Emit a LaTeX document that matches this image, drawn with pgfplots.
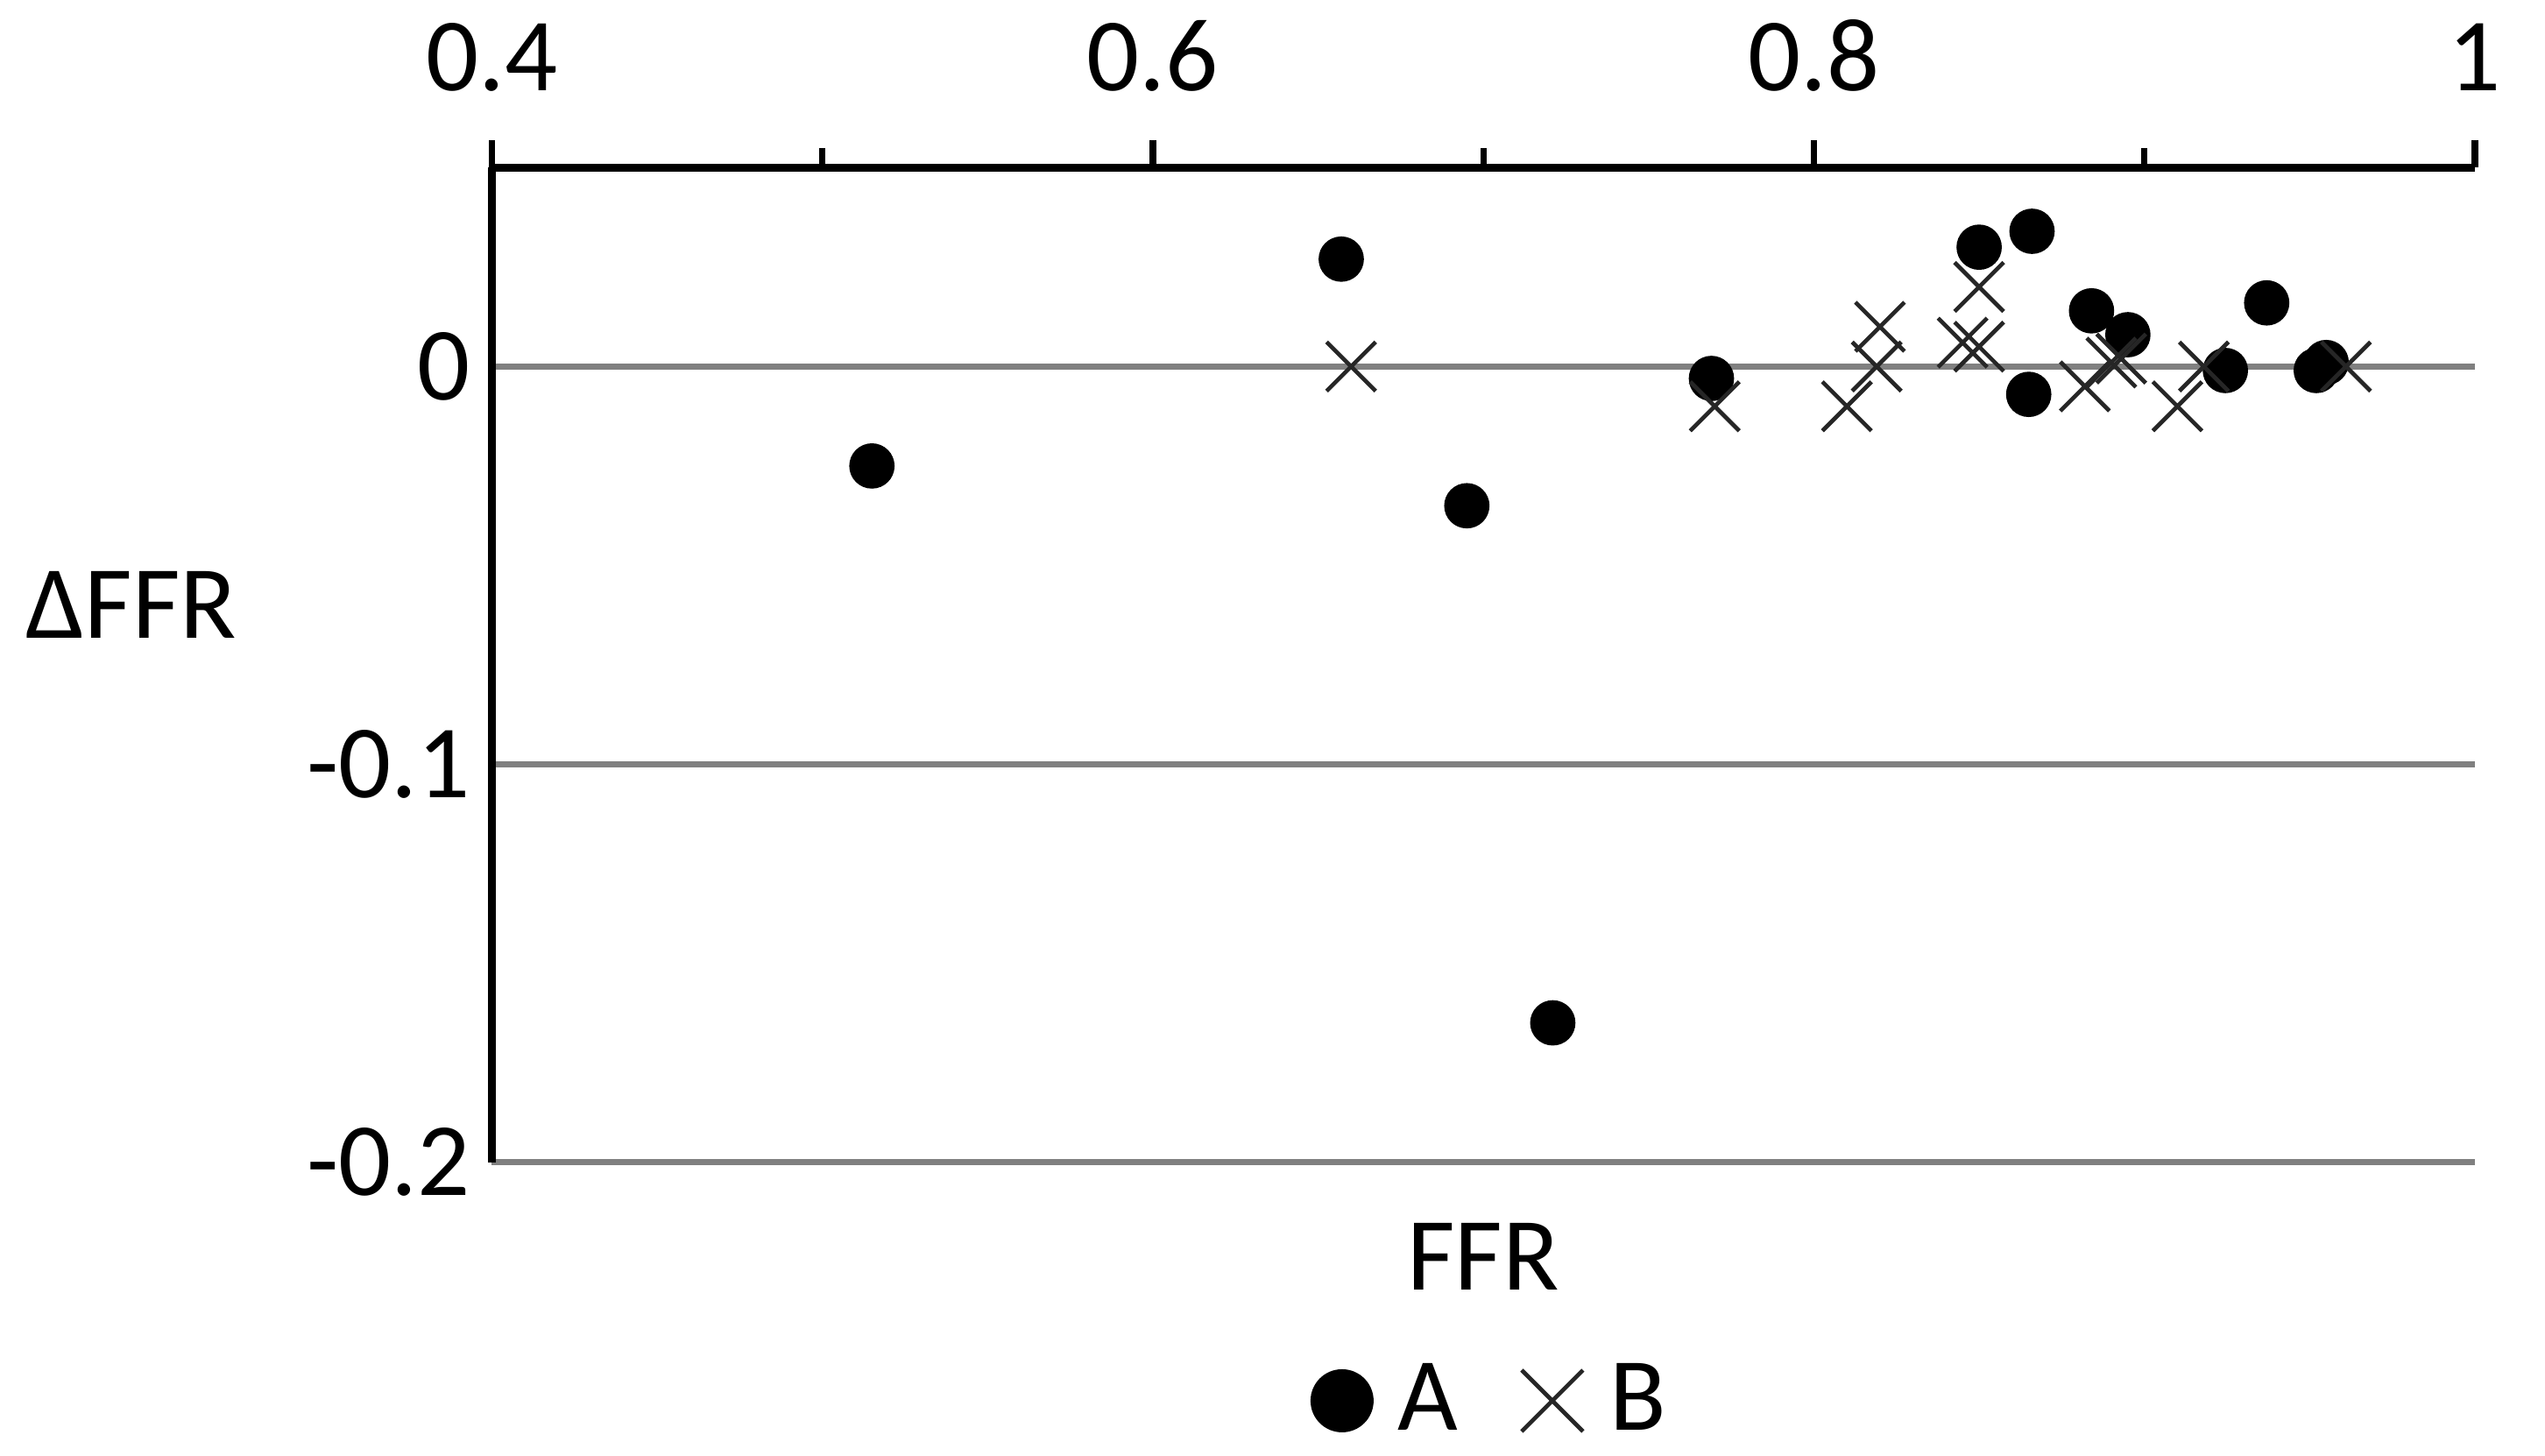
\documentclass[border=0pt]{standalone}
\usepackage{fontspec}
\setmainfont{Carlito}
\usepackage{pgfplots}
\pgfplotsset{compat=1.18}

\newcommand{\fsz}{\fontsize{17.8}{21}\selectfont}

\begin{document}
\begin{tikzpicture}
\path[use as bounding box] (-84.2pt,-50.2pt) rectangle (351.5pt,198.95pt);
\begin{axis}[
    at={(0,0)}, anchor=south west,
    scale only axis,
    width=339.5pt, height=170.25pt,
    xmin=0.4, xmax=1, ymin=-0.2, ymax=0.05,
    axis x line=top, axis y line=left,
    axis line style={-, black, line width=1.35pt},
    xtick={0.4,0.6,0.8,1}, xticklabels={0.4,0.6,0.8,1},
    minor xtick={0.5,0.7,0.9},
    ytick={-0.2,-0.1,0}, yticklabels={-0.2,-0.1,0},
    tick align=outside,
    major tick length=4.65pt, minor tick length=3.3pt,
    xtick style={black, line width=1.1pt},
    ytick style={draw=none},
    ymajorgrids, grid style={gray, line width=1pt},
    tick label style={font=\fsz, inner sep=0pt},
    xticklabel style={anchor=base, yshift=8.6pt},
    yticklabel style={anchor=east, xshift=1.2pt},
    clip=false,
    legend columns=2,
    legend style={at={(0.5025,-0.24)}, anchor=center, draw=none, fill=none,
        font=\fsz, inner sep=0pt, nodes={inner sep=0pt},
        /tikz/every odd column/.append style={column sep=4.2pt},
        /tikz/every even column/.append style={column sep=10.5pt}},
]
\addplot[only marks, mark=*, mark size=3.68pt, mark options={fill=black, draw=none},
    legend image code/.code={\fill[black] (5.2pt,0pt) circle[radius=5.2pt];}]
    coordinates {
    (0.515,-0.025) (0.657,0.027) (0.695,-0.035) (0.721,-0.165)
    (0.769,-0.003) (0.850,0.030) (0.866,0.034) (0.865,-0.007)
    (0.884,0.014) (0.895,0.008) (0.9245,-0.001) (0.937,0.016)
    (0.952,-0.001) (0.955,0.001)
    };
\addlegendentry{A}
\addplot[only marks, mark=x, mark size=5.94pt, black!85, line width=0.7pt,
    legend image code/.code={\draw[black!85, line width=0.7pt]
        (0pt,-5.25pt) -- (10.5pt,5.25pt) (0pt,5.25pt) -- (10.5pt,-5.25pt);}]
    coordinates {
    (0.660,0) (0.770,-0.010) (0.810,-0.010) (0.820,0.010)
    (0.819,0) (0.845,0.006) (0.850,0.005) (0.850,0.020)
    (0.882,-0.005) (0.890,0.001) (0.893,0.002) (0.910,-0.010)
    (0.918,0) (0.961,0)
    };
\addlegendentry{B}
\node[anchor=base, inner sep=0pt, font=\fsz, yshift=-21.9pt] at (rel axis cs:0.5,0) {FFR};
\node[anchor=base west, inner sep=0pt, font=\fsz, xshift=-79.9pt, yshift=89.7pt] at (rel axis cs:0,0) {ΔFFR};
\end{axis}
\end{tikzpicture}
\end{document}
